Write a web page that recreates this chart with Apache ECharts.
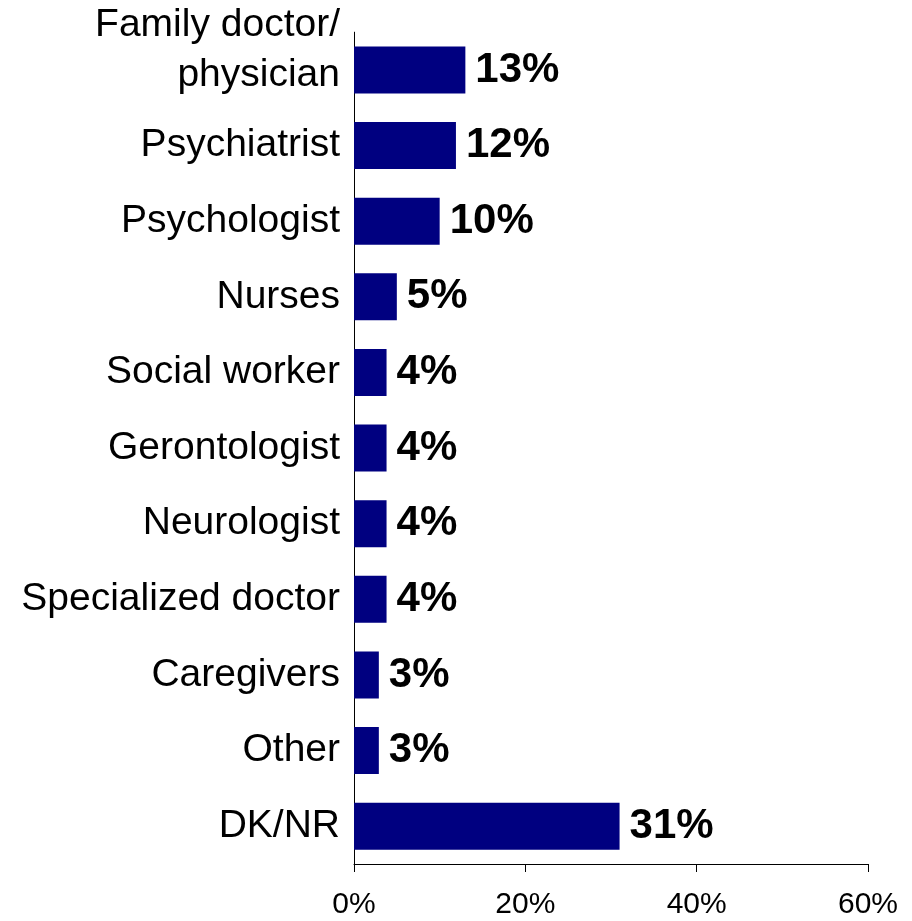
<!DOCTYPE html>
<html>
<head>
<meta charset="utf-8">
<script src="https://cdn.jsdelivr.net/npm/echarts@6/dist/echarts.min.js"></script>
<style>html,body{margin:0;padding:0;background:#fff;}#c{width:912px;height:921px;}</style>
</head>
<body>
<div id="c"></div>
<script>
const categories = ["Family doctor/\nphysician","Psychiatrist","Psychologist","Nurses","Social worker","Gerontologist","Neurologist","Specialized doctor","Caregivers","Other","DK/NR"];
const values = [13, 11.9, 10, 5, 3.8, 3.8, 3.8, 3.8, 2.9, 2.9, 31];
const xTicks = [0, 20, 40, 60];

const FONT = 'Liberation Sans, Arial, sans-serif';
const chart = echarts.init(document.getElementById('c'), null, {renderer: 'canvas'});
chart.setOption({
  animation: false,
  backgroundColor: '#fff',
  grid: {left: 354, right: 44, top: 32, bottom: 57, containLabel: false},
  xAxis: {
    type: 'value', min: 0, max: 60, interval: 20,
    splitLine: {show: false},
    axisLine: {show: true, lineStyle: {color: '#000', width: 1}},
    axisTick: {show: true, length: 8, lineStyle: {color: '#000'}},
    axisLabel: {
      margin: 26, color: '#000', fontSize: 30, fontFamily: FONT,
      formatter: v => xTicks.includes(v) ? v + '%' : ''
    }
  },
  yAxis: {
    type: 'category', data: categories, inverse: true,
    axisLine: {show: true, lineStyle: {color: '#000', width: 1}},
    axisTick: {show: false},
    axisLabel: {
      interval: 0, hideOverlap: false,
      margin: 14, color: '#000', fontSize: 39, lineHeight: 50,
      fontFamily: FONT, align: 'right',
      formatter: v => {
        const lines = v.split('\n');
        if (lines.length > 1) {
          return lines.map(l => '{a|' + l + '}').join('\n') + '\n{s| }';
        }
        return '{a|' + v + '}';
      },
      rich: {
        a: {fontSize: 39, lineHeight: 50, fontFamily: FONT, color: '#000', align: 'right'},
        s: {fontSize: 10, lineHeight: 40, fontFamily: FONT, color: '#000', align: 'right'}
      }
    }
  },
  series: [{
    type: 'bar', data: values, barWidth: 47,
    itemStyle: {color: '#000080'},
    label: {
      show: true, position: 'right', distance: 10, color: '#000',
      fontSize: 42, fontWeight: 'bold', fontFamily: FONT,
      formatter: p => Math.round(p.value) + '%'
    }
  }]
});
</script>
</body>
</html>
